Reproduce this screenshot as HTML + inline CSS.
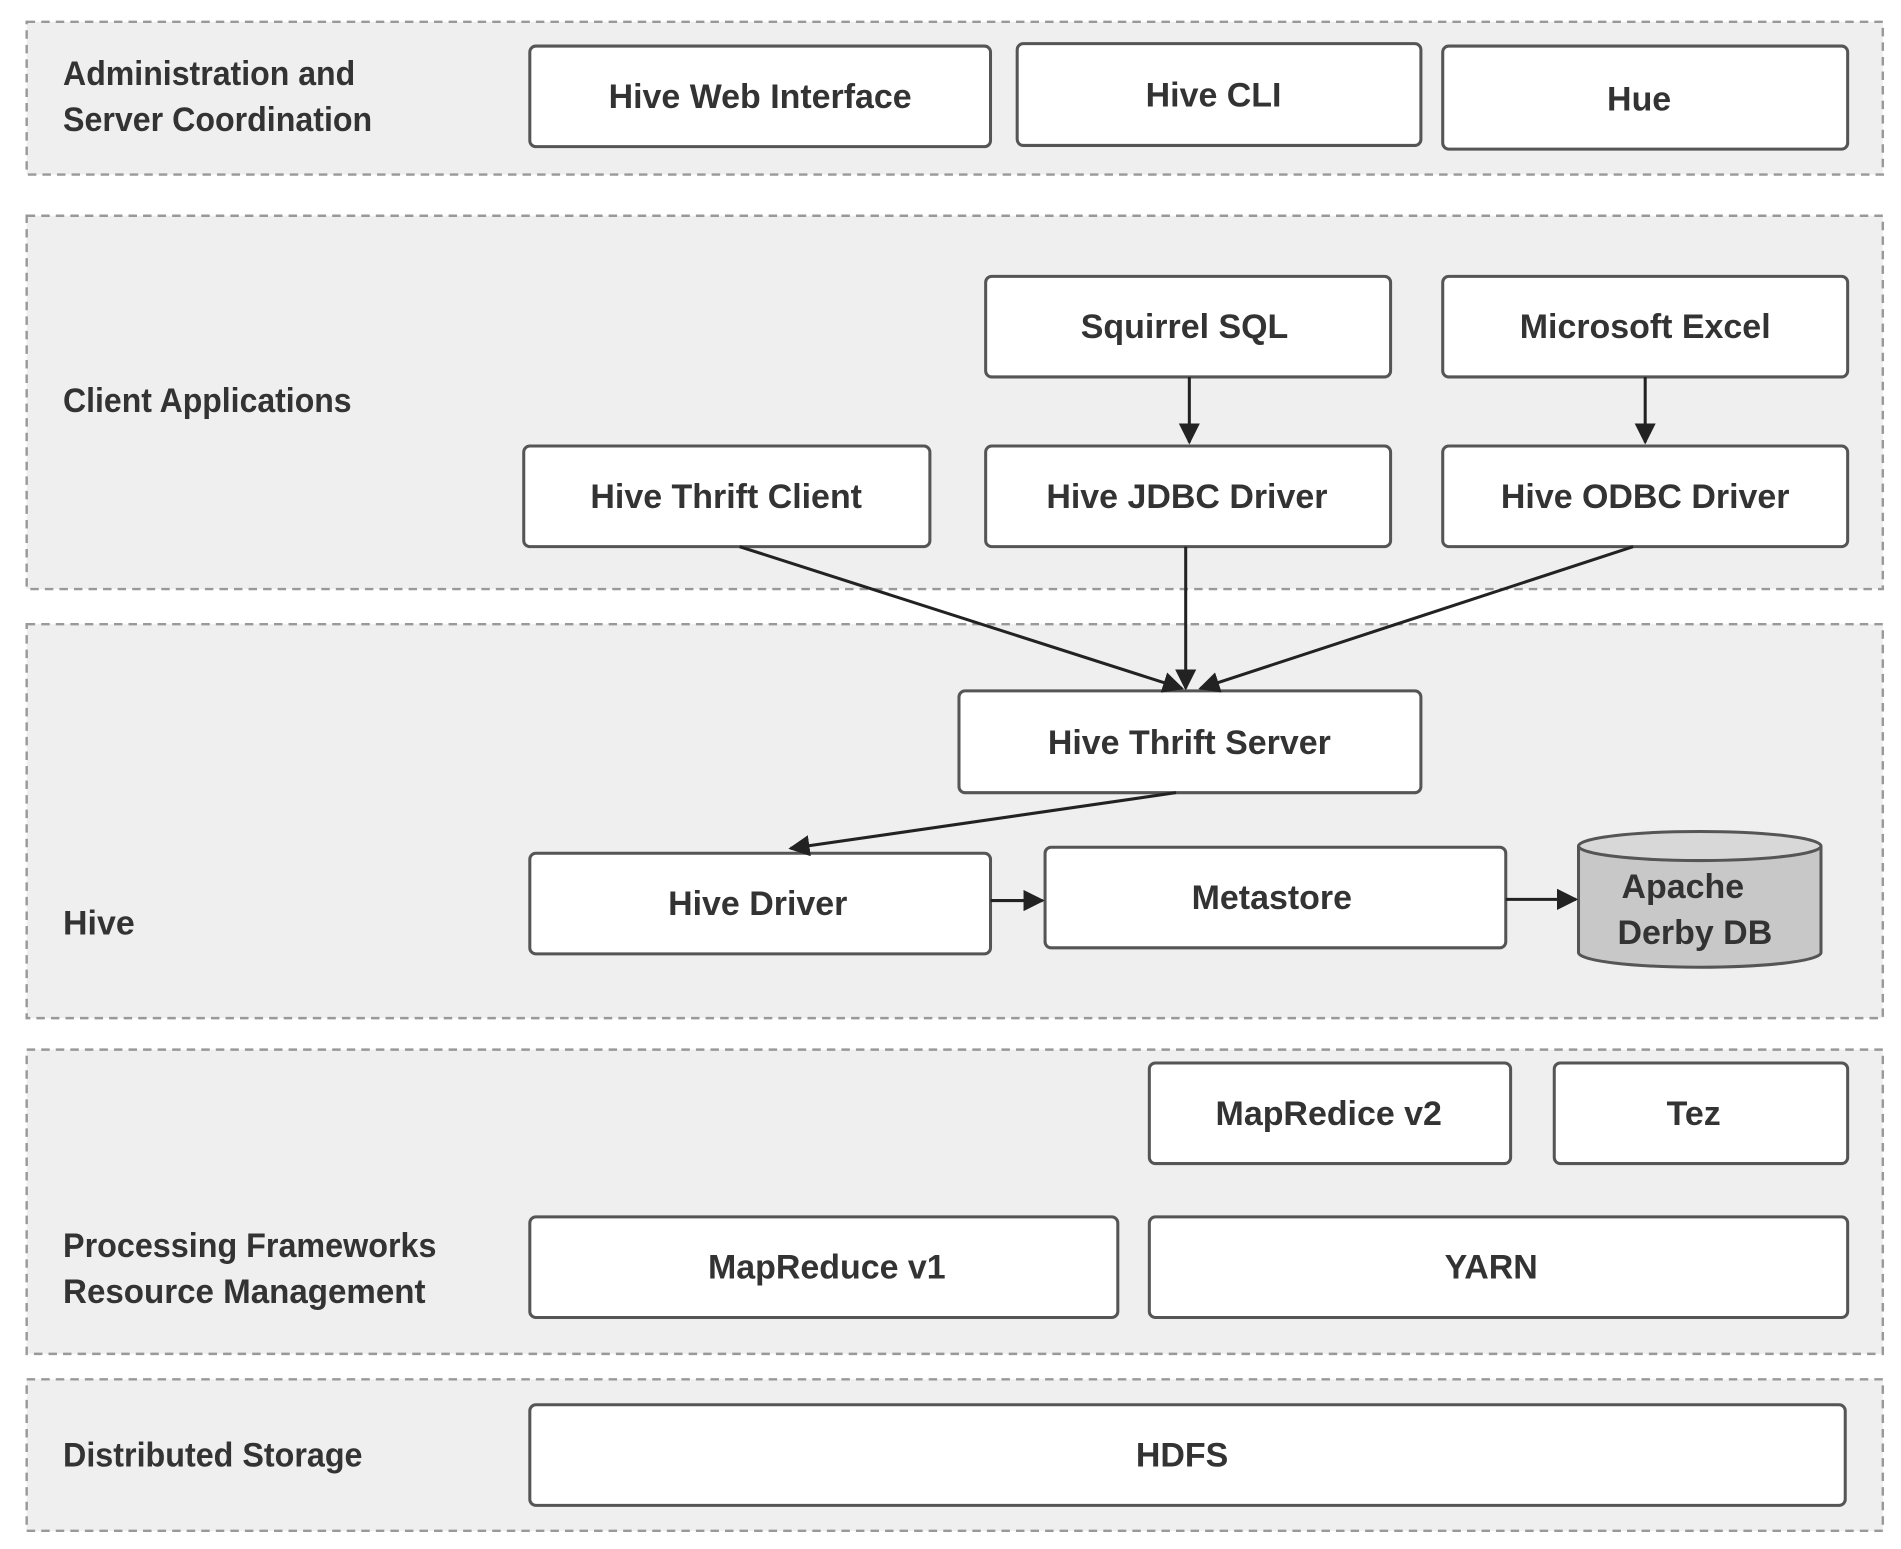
<!DOCTYPE html>
<html><head><meta charset="utf-8"><style>html,body{margin:0;padding:0;background:#fff;}svg{display:block}</style></head>
<body>
<svg width="1901" height="1549" viewBox="0 0 1568 1278" preserveAspectRatio="none" xmlns="http://www.w3.org/2000/svg" font-family="Liberation Sans, sans-serif" font-weight="bold" fill="#333">
<defs><marker id="a" viewBox="0 0 10 10" refX="9" refY="5" markerWidth="7" markerHeight="7" orient="auto"><path d="M0,0 L10,5 L0,10 z" fill="#222"/></marker></defs>
<g fill="#efefef" stroke="#999" stroke-width="2" stroke-dasharray="7,5">
<rect x="22" y="18" width="1531" height="126"/>
<rect x="22" y="178" width="1531" height="308"/>
<rect x="22" y="515" width="1531" height="325"/>
<rect x="22" y="866" width="1531" height="251"/>
<rect x="22" y="1138" width="1531" height="125"/>
</g>
<g fill="#fff" stroke="#555" stroke-width="2.5">
<rect x="437" y="38" width="380" height="83" rx="5"/>
<rect x="839" y="36" width="333" height="84" rx="5"/>
<rect x="1190" y="38" width="334" height="85" rx="5"/>
<rect x="813" y="228" width="334" height="83" rx="5"/>
<rect x="1190" y="228" width="334" height="83" rx="5"/>
<rect x="432" y="368" width="335" height="83" rx="5"/>
<rect x="813" y="368" width="334" height="83" rx="5"/>
<rect x="1190" y="368" width="334" height="83" rx="5"/>
<rect x="791" y="570" width="381" height="84" rx="5"/>
<rect x="437" y="704" width="380" height="83" rx="5"/>
<rect x="862" y="699" width="380" height="83" rx="5"/>
<rect x="948" y="877" width="298" height="83" rx="5"/>
<rect x="1282" y="877" width="242" height="83" rx="5"/>
<rect x="437" y="1004" width="485" height="83" rx="5"/>
<rect x="948" y="1004" width="576" height="83" rx="5"/>
<rect x="437" y="1159" width="1085" height="83" rx="5"/>
</g>
<g stroke="#555" stroke-width="2.5">
<path d="M1302,698 L1302,786 A100,12 0 0 0 1502,786 L1502,698" fill="#c8c8c8"/>
<ellipse cx="1402" cy="698" rx="100" ry="12" fill="#d8d8d8"/>
</g>
<g stroke="#222" stroke-width="2.5" marker-end="url(#a)" fill="none">
<line x1="981" y1="311" x2="981" y2="365"/>
<line x1="1357" y1="311" x2="1357" y2="365"/>
<line x1="610" y1="451" x2="975" y2="568"/>
<line x1="978" y1="451" x2="978" y2="568"/>
<line x1="1347" y1="451" x2="990" y2="568"/>
<line x1="970" y1="654" x2="652" y2="700"/>
<line x1="817" y1="743" x2="860" y2="743"/>
<line x1="1242" y1="742" x2="1300" y2="742"/>
</g>
<g font-size="28" lengthAdjust="spacingAndGlyphs">
<text x="52" y="70" textLength="241" lengthAdjust="spacingAndGlyphs">Administration and</text>
<text x="52" y="108" textLength="255" lengthAdjust="spacingAndGlyphs">Server Coordination</text>
<text x="52" y="340" textLength="238" lengthAdjust="spacingAndGlyphs">Client Applications</text>
<text x="52" y="771">Hive</text>
<text x="52" y="1037" textLength="308" lengthAdjust="spacingAndGlyphs">Processing Frameworks</text>
<text x="52" y="1075" textLength="299" lengthAdjust="spacingAndGlyphs">Resource Management</text>
<text x="52" y="1210" textLength="247" lengthAdjust="spacingAndGlyphs">Distributed Storage</text>
</g>
<g font-size="28" text-anchor="middle">
<text x="627" y="89">Hive Web Interface</text>
<text x="1001" y="88">Hive CLI</text>
<text x="1352" y="91">Hue</text>
<text x="977" y="279">Squirrel SQL</text>
<text x="1357" y="279">Microsoft Excel</text>
<text x="599" y="419">Hive Thrift Client</text>
<text x="979" y="419">Hive JDBC Driver</text>
<text x="1357" y="419">Hive ODBC Driver</text>
<text x="981" y="622">Hive Thrift Server</text>
<text x="625" y="755">Hive Driver</text>
<text x="1049" y="750">Metastore</text>
<text x="1388" y="741">Apache</text>
<text x="1398" y="779">Derby DB</text>
<text x="1096" y="928">MapRedice v2</text>
<text x="1397" y="928">Tez</text>
<text x="682" y="1055">MapReduce v1</text>
<text x="1230" y="1055">YARN</text>
<text x="975" y="1210">HDFS</text>
</g>
</svg>
</body></html>
